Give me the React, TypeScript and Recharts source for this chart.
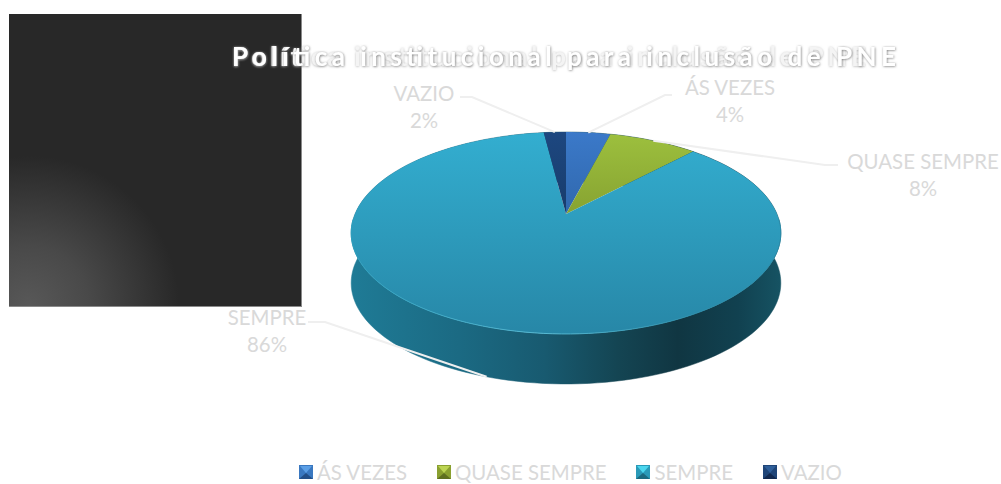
import React from 'react';
import { PieChart, Pie, Cell, Legend } from 'recharts';

const categories = ['ÁS VEZES', 'QUASE SEMPRE', 'SEMPRE', 'VAZIO'];
const values = [4, 8, 86, 2];
const topFills = ['url(#gBlue)', 'url(#gGreen)', 'url(#gTeal)', 'url(#gNavy)'];
const bevels = [
  ['#5b9fe6', '#3a78c0', '#234f88'],
  ['#bcd452', '#8aa030', '#5f6f20'],
  ['#4bd6ee', '#2a9ab8', '#1b6a80'],
  ['#2f5f9a', '#1f4578', '#12294f'],
];
const labelAnchors = [
  { x: 730, y: 95, lx: 672, ly: 95, kx: 665 },
  { x: 923, y: 169, lx: 838, ly: 165, kx: 825 },
  { x: 267, y: 325, lx: 308, ly: 322, kx: 325 },
  { x: 424, y: 101, lx: 460, ly: 97, kx: 472 },
];
const title = 'Política institucional para inclusão de PNE';
const data = categories.map((name, i) => ({ name, value: values[i] }));

const FONT = 'Lato, "Open Sans", sans-serif';
const TILT = 0.4616;
const PERSP = 0.188;
const DEPTH = 50;

const project = (cx: number, cy: number, r: number, deg: number) => {
  const a = (deg * Math.PI) / 180;
  const u = Math.cos(a);
  const v = Math.sin(a);
  const d = 1 + PERSP * v;
  return { x: cx + (r * u) / d, y: cy - (TILT * r * v) / d, v };
};
const rim = (cx: number, cy: number, r: number, start: number, end: number) => {
  const n = Math.max(2, Math.ceil(Math.abs(end - start) / 2));
  const pts = [];
  for (let i = 0; i <= n; i++) pts.push(project(cx, cy, r, start + ((end - start) * i) / n));
  return pts;
};
const toPath = (pts: { x: number; y: number }[]) =>
  pts.map((p, i) => `${i ? 'L' : 'M'}${p.x.toFixed(2)} ${p.y.toFixed(2)}`).join(' ');

const TopShape = (props: any) => {
  const { cx, cy, outerRadius, startAngle, endAngle, index } = props;
  const pts = rim(cx, cy, outerRadius, startAngle, endAngle);
  const near = pts.filter((p) => p.v < -0.02);
  return (
    <g>
      <path d={`M${cx} ${cy} ${toPath(pts).replace('M', 'L')} Z`} fill={topFills[index]} />
      {near.length > 1 && <path d={toPath(near)} fill="none" stroke="url(#gRim)" strokeWidth={1} />}
    </g>
  );
};
const WallShape = (props: any) => {
  const { cx, cy, outerRadius, startAngle, endAngle } = props;
  const pts = rim(cx, cy, outerRadius, startAngle, endAngle);
  const low = pts.map((p) => ({ x: p.x, y: p.y + DEPTH })).reverse();
  return <path d={`${toPath(pts)} ${toPath(low).replace('M', 'L')} Z`} fill="url(#gWall)" stroke="url(#gWall)" strokeWidth={0.5} />;
};

const renderLabel = (props: any) => {
  const { index, percent, cx, cy, outerRadius, midAngle, name } = props;
  const a = labelAnchors[index];
  const end = project(cx, cy, outerRadius, midAngle);
  const ey = end.v < 0 ? end.y + DEPTH : end.y;
  return (
    <g>
      <path d={`M${a.lx} ${a.ly} L${a.kx} ${a.ly} L${end.x} ${ey}`} fill="none" stroke="#efefef" strokeWidth={2} />
      <text x={a.x} y={a.y} textAnchor="middle" fontFamily={FONT} fontSize={20.4} fill="#d9d9d9">{name}</text>
      <text x={a.x} y={a.y + 27} textAnchor="middle" fontFamily={FONT} fontSize={20.4} fill="#d9d9d9">{`${Math.round(percent * 100)}%`}</text>
    </g>
  );
};

const Bevel = ({ c }: { c: string[] }) => (
  <svg width={14} height={14} style={{ display: 'block', flex: 'none' }}>
    <rect width={14} height={14} fill={c[1]} />
    <polygon points="1,1 13,1 7,8" fill={c[0]} />
    <polygon points="0,14 14,14 7,8" fill={c[2]} />
  </svg>
);

const renderLegend = () => (
  <div style={{ display: 'flex', justifyContent: 'flex-start', paddingLeft: 299, gap: 30, fontFamily: FONT, fontSize: 20.4, color: '#d9d9d9', whiteSpace: 'nowrap' }}>
    {categories.map((c, i) => (
      <div key={c} style={{ display: 'flex', alignItems: 'center', gap: 4 }}>
        <Bevel c={bevels[i]} />
        <span>{c}</span>
      </div>
    ))}
  </div>
);

export default function App() {
  return (
    <div style={{ position: 'absolute', left: 0, top: 0, width: 1001, height: 484, background: '#fff', overflow: 'hidden' }}>
      <div style={{ position: 'absolute', left: 9, top: 14, width: 293, height: 293, boxSizing: 'border-box', borderRight: '1px solid #8a8a8a', borderBottom: '1px solid #8a8a8a', background: 'radial-gradient(circle 150px at 20px 292px, #585858 0%, #494949 40%, #282828 100%)' }} />
      <div style={{ position: 'absolute', left: 0, top: 0 }}>
        <PieChart width={1001} height={484} margin={{ top: 0, right: 0, bottom: 0, left: 0 }}>
          <defs>
            <linearGradient id="gWall" gradientUnits="userSpaceOnUse" x1="351" y1="0" x2="781" y2="0">
              <stop offset="0" stopColor="#1f7b96" />
              <stop offset="0.25" stopColor="#1b6a83" />
              <stop offset="0.45" stopColor="#185a70" />
              <stop offset="0.62" stopColor="#144553" />
              <stop offset="0.76" stopColor="#103642" />
              <stop offset="0.9" stopColor="#114150" />
              <stop offset="1" stopColor="#165363" />
            </linearGradient>
            <linearGradient id="gRim" gradientUnits="userSpaceOnUse" x1="351" y1="0" x2="781" y2="0">
              <stop offset="0" stopColor="#2e9fbe" />
              <stop offset="0.45" stopColor="#55b8d2" />
              <stop offset="0.8" stopColor="#2c8eab" />
              <stop offset="1" stopColor="#2a8aa8" />
            </linearGradient>
            <linearGradient id="gTeal" gradientUnits="userSpaceOnUse" x1="0" y1="132" x2="0" y2="334">
              <stop offset="0" stopColor="#33aed0" />
              <stop offset="1" stopColor="#2787a7" />
            </linearGradient>
            <linearGradient id="gBlue" gradientUnits="userSpaceOnUse" x1="0" y1="132" x2="0" y2="214">
              <stop offset="0" stopColor="#3b79c9" />
              <stop offset="1" stopColor="#3068ad" />
            </linearGradient>
            <linearGradient id="gGreen" gradientUnits="userSpaceOnUse" x1="0" y1="132" x2="0" y2="214">
              <stop offset="0" stopColor="#9dc03e" />
              <stop offset="1" stopColor="#87a331" />
            </linearGradient>
            <linearGradient id="gNavy" gradientUnits="userSpaceOnUse" x1="0" y1="132" x2="0" y2="214">
              <stop offset="0" stopColor="#1d4780" />
              <stop offset="1" stopColor="#183c6b" />
            </linearGradient>
            <filter id="wallShadow" x="-10%" y="-10%" width="120%" height="130%">
              <feDropShadow dx="0" dy="1" stdDeviation="2" floodColor="#000" floodOpacity="0.4" />
            </filter>
            <filter id="ghost" x="-5%" y="-40%" width="110%" height="180%">
              <feDropShadow dx="0" dy="0.5" stdDeviation="1" floodColor="#b8b8b8" floodOpacity="1" />
            </filter>
            <filter id="mainShadow" x="-5%" y="-40%" width="110%" height="180%">
              <feDropShadow dx="0.5" dy="0.5" stdDeviation="1" floodColor="#7c7c7c" floodOpacity="1" />
            </filter>
          </defs>
          <g filter="url(#wallShadow)">
            <Pie data={data} dataKey="value" nameKey="name" cx={566} cy={214} outerRadius={211} startAngle={90} endAngle={-270} paddingAngle={0} stroke="none" legendType="none" shape={WallShape} isAnimationActive={false} label={false} labelLine={false} />
          </g>
          <Pie data={data} dataKey="value" nameKey="name" cx={566} cy={214} outerRadius={211} startAngle={90} endAngle={-270} paddingAngle={0} stroke="none" shape={TopShape} isAnimationActive={false} label={renderLabel} labelLine={false}>
            {data.map((d, i) => <Cell key={d.name} fill={bevels[i][1]} />)}
          </Pie>
          <Legend content={renderLegend} wrapperStyle={{ left: 0, top: 460, width: 1001 }} />
          <text x={232} y={66} fontFamily={FONT} fontWeight={700} fontSize={26} fill="#f4f4f4" textLength={634} lengthAdjust="spacing" filter="url(#ghost)">{title}</text>
          <text x={232} y={66} fontFamily={FONT} fontWeight={700} fontSize={26} fill="#ffffff" textLength={664} lengthAdjust="spacing" filter="url(#mainShadow)">{title}</text>
        </PieChart>
      </div>
    </div>
  );
}
